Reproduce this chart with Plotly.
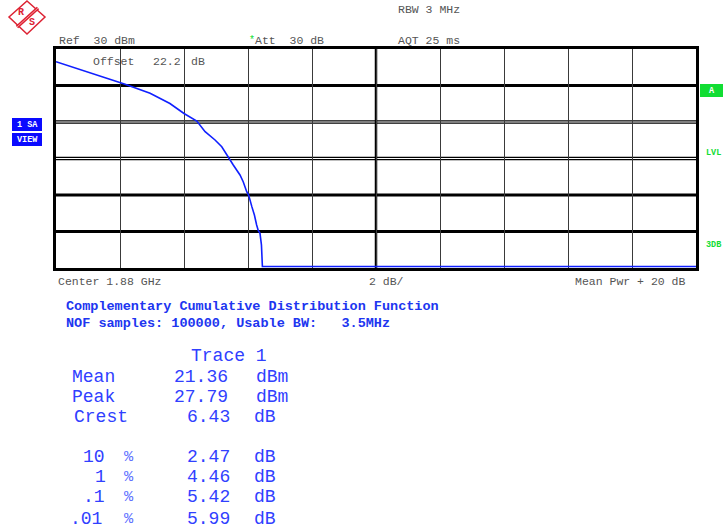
import plotly.graph_objects as go

# ---- data (CCDF trace) ----
level_db = [0.0, 1.06, 2.16, 2.94, 3.56, 4.00, 4.40, 4.66, 4.97, 5.18, 5.38, 5.54,
            5.75, 5.85, 5.96, 6.02, 6.12, 6.20, 6.27, 6.32, 6.375, 6.42, 6.45, 20.0]
probability = [0.449, 0.223, 0.108, 0.0611, 0.0321, 0.0171, 0.0106, 0.00542, 0.00321,
               0.0021, 0.00108, 0.000664, 0.000353, 0.000231, 0.000123, 0.0001,
               4.8e-5, 2.83e-5, 1.51e-5, 1.07e-5, 8.9e-6, 4.3e-6, 1.1e-6, 1.1e-6]

ytick_vals = [0.1, 0.01, 1e-3, 1e-4, 1e-5]
ytick_text = ["0.1", "0.01", "1E-3", "1E-4", "1E-5"]

stat_labels = ["Mean", "Peak", "Crest"]
stat_values = ["21.36", "27.79", "6.43"]
stat_units = ["dBm", "dBm", "dB"]
pct_labels = ["10", "1", ".1", ".01"]
pct_values = ["2.47", "4.46", "5.42", "5.99"]

# ---- layout geometry (pixels) ----
W, H = 726, 532
L, R, T, B = 56, 696, 49, 268


def px(x):
    return (x - L) / (R - L)


def py(y):
    return (B - y) / (B - T)


def nb(s):
    return s.replace(" ", "\u00a0")


MONO = "Liberation Mono, Courier New, monospace"
GRAY = "#555555"
BLUE = "#3040ff"
GREEN = "#11dd33"

fig = go.Figure()
fig.add_trace(go.Scatter(x=level_db, y=probability, mode="lines",
                         line=dict(color="#1020ff", width=1.6), hoverinfo="skip"))

shapes = []
# horizontal grid lines
for i, v in enumerate(ytick_vals):
    if i in (1, 2):
        for f in (1.07, 1 / 1.07):
            shapes.append(dict(type="line", xref="paper", yref="y", x0=0, x1=1,
                               y0=v * f, y1=v * f, line=dict(color="black", width=1.3),
                               layer="below"))
    else:
        shapes.append(dict(type="line", xref="paper", yref="y", x0=0, x1=1, y0=v, y1=v,
                           line=dict(color="black", width=3), layer="below"))
# thick centre line
shapes.append(dict(type="line", xref="x", yref="paper", x0=10, x1=10, y0=0, y1=1,
                   line=dict(color="black", width=2.5), layer="below"))

# R&S logo
shapes.append(dict(type="path", xref="paper", yref="paper",
                   path=f"M {px(27)},{py(1)} L {px(45)},{py(17)} L {px(27)},{py(34)} L {px(9)},{py(17)} Z",
                   line=dict(color="#dd2233", width=1.5)))
shapes.append(dict(type="line", xref="paper", yref="paper", x0=px(17), y0=py(27),
                   x1=px(38), y1=py(8), line=dict(color="#dd2233", width=3.5)))
shapes.append(dict(type="line", xref="paper", yref="paper", x0=px(17), y0=py(27),
                   x1=px(38), y1=py(8), line=dict(color="#ffb0b8", width=0.8)))

# side boxes
for (x0, y0, x1, y1, c) in [(12, 118, 42, 131, "#0a0aff"), (12, 133, 42, 146, "#0a0aff"),
                            (700, 84, 723, 97, GREEN)]:
    shapes.append(dict(type="rect", xref="paper", yref="paper", x0=px(x0), x1=px(x1),
                       y0=py(y1), y1=py(y0), fillcolor=c, line=dict(width=0)))

ann = []


def text(x, y, s, size=11.5, color=GRAY, bold=False, anchor="left", bg=None, xref="paper"):
    d = dict(x=px(x) if xref == "paper" else x, y=py(y), xref=xref, yref="paper",
             text=("<b>" + nb(s) + "</b>") if bold else nb(s), showarrow=False,
             xanchor=anchor, yanchor="middle", borderpad=0,
             font=dict(family=MONO, size=size, color=color))
    if bg:
        d["bgcolor"] = bg
    ann.append(d)


# header
text(397, 9, "RBW 3 MHz")
text(58, 40, "Ref  30 dBm")
text(248, 40, "*", color=GREEN, size=10)
text(254, 40, "Att  30 dB")
text(397, 40, "AQT 25 ms")
text(92, 61, "Offset")
text(152, 61, "22.2")
text(190, 61, "dB")
# footer
text(57, 281, "Center 1.88 GHz")
text(368, 281, "2 dB/")
text(574, 281, "Mean Pwr + 20 dB")
# y labels inside the grid
for v, t in zip(ytick_vals, ytick_text):
    ann.append(dict(x=0.2, y=v, xref="x", yref="y", text=t, showarrow=False,
                    xanchor="left", yanchor="middle", bgcolor="white", borderpad=1,
                    font=dict(family=MONO, size=11.5, color=GRAY)))
# logo letters
text(21, 12, "R", size=10, color="#dd2233", bold=True, anchor="center")
text(32, 23, "S", size=10, color="#dd2233", bold=True, anchor="center")
# side labels
text(27, 124.5, "1 SA", size=8.5, color="white", bold=True, anchor="center")
text(27, 139.5, "VIEW", size=8.5, color="white", bold=True, anchor="center")
text(711.5, 90.5, "A", size=8.5, color="white", bold=True, anchor="center")
text(713, 153, "LVL", size=8.5, color=GREEN, bold=True, anchor="center")
text(713, 245, "3DB", size=8.5, color=GREEN, bold=True, anchor="center")
# blue info text
text(65, 306, "Complementary Cumulative Distribution Function", size=13.5,
     color="#2035f0", bold=True)
text(65, 323, "NOF samples: 100000, Usable BW:   3.5MHz", size=13.5,
     color="#2035f0", bold=True)

# statistics block: each token centred on its monospace cell range (14.3 px per cell)
FS = 18
CW = 14.3
X0 = 65


def cell_center(c0, n):
    return X0 + (c0 + n / 2) * CW


text(cell_center(8, 7), 356, "Trace 1", size=FS, color=BLUE, anchor="center")
for lab, val, unit, y in zip(stat_labels, stat_values, stat_units, [377, 397, 417]):
    text(cell_center(0, len(lab)), y, lab, size=FS, color=BLUE, anchor="center")
    text(cell_center(12 - len(val), len(val)), y, val, size=FS, color=BLUE, anchor="center")
    text(cell_center(13, len(unit)), y, unit, size=FS, color=BLUE, anchor="center")
for lab, val, y in zip(pct_labels, pct_values, [457, 477, 497, 519]):
    text(cell_center(3 - len(lab), len(lab)), y, lab, size=FS, color=BLUE, anchor="center")
    text(cell_center(4, 1), y, "%", size=FS * 0.85, color="#6070ff", anchor="center")
    text(cell_center(12 - len(val), len(val)), y, val, size=FS, color=BLUE, anchor="center")
    text(cell_center(13, 2), y, "dB", size=FS, color=BLUE, anchor="center")

fig.update_layout(
    width=W, height=H, autosize=False,
    margin=dict(l=L, r=W - R, t=T, b=H - B, autoexpand=False),
    paper_bgcolor="white", plot_bgcolor="white",
    showlegend=False,
    shapes=shapes, annotations=ann,
    xaxis=dict(range=[0, 20], dtick=2, showgrid=True, gridcolor="#3a3a3a", gridwidth=1.2,
               showticklabels=False, ticks="", zeroline=False,
               showline=True, mirror=True, linecolor="black", linewidth=3),
    yaxis=dict(type="log", range=[-6, 0], showgrid=False, showticklabels=False, ticks="",
               zeroline=False, showline=True, mirror=True, linecolor="black", linewidth=3),
)

fig.write_html("out.html", config={"displayModeBar": False},
               post_script="document.body.style.margin='0px';")
